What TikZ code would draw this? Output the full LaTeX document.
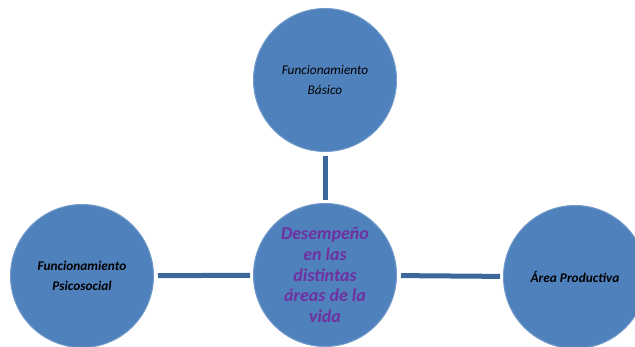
\documentclass[tikz,border=0pt]{standalone}
\usepackage{fontspec}
\setmainfont{Carlito}[ItalicFont={Carlito Italic}, BoldFont={Carlito Bold}, BoldItalicFont={Carlito Bold Italic}]
\definecolor{areablue}{HTML}{4F81BD}
\definecolor{linkblue}{HTML}{3C679A}
\definecolor{textpurple}{HTML}{7030A0}
\begin{document}
\begin{tikzpicture}[x=1pt, y=1pt,
        area/.style={circle, fill=areablue, draw=areablue!80!white, line width=1pt,
            minimum size=143pt, inner sep=0pt, align=center,
            font=\itshape\fontsize{13.3}{20}\selectfont},
        link/.style={draw=linkblue, line width=5pt, shorten >=3pt, shorten <=4pt}]
        \useasboundingbox (0,0) rectangle (635,347);
        \node[area] (basico) at (325,267) {Funcionamiento\\Básico};
        \node[area, text=textpurple, font=\bfseries\itshape\fontsize{18}{20.7}\selectfont] (vida) at (325,72)
            {Desempeño\\en las\\distintas\\áreas de la\\vida};
        \node[area, font=\bfseries\itshape\fontsize{13.3}{20}\selectfont] (psico) at (82,71) {Funcionamiento\\Psicosocial};
        \node[area, font=\bfseries\itshape\fontsize{13.3}{20}\selectfont] (prod) at (575,70) {Área Productiva};
        \draw[link] (basico) -- (vida);
        \draw[link] (psico) -- (vida);
        \draw[link] (vida) -- (prod);
\end{tikzpicture}
\end{document}
